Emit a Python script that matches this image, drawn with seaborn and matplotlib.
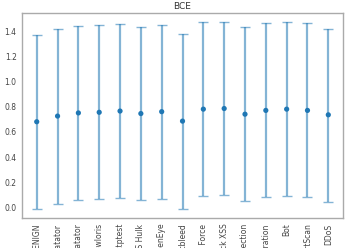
import matplotlib
matplotlib.use("Agg")
import matplotlib.pyplot as plt
import seaborn as sns
import numpy as np

categories = ["BENIGN", "FTP-Patator", "SSH-Patator", "DoS slowloris", "DoS Slowhttptest",
              "DoS Hulk", "DoS GoldenEye", "Heartbleed", "Web Attack Brute Force",
              "Web Attack XSS", "Web Attack Sql Injection", "Infiltration", "Bot",
              "PortScan", "DDoS"]
means = [0.68, 0.725, 0.75, 0.755, 0.765, 0.745, 0.76, 0.685, 0.78, 0.785, 0.74, 0.77, 0.78, 0.77, 0.735]
upper = [1.37, 1.415, 1.44, 1.445, 1.455, 1.435, 1.45, 1.38, 1.47, 1.47, 1.43, 1.46, 1.47, 1.46, 1.42]
lower = [-0.01, 0.03, 0.06, 0.065, 0.075, 0.055, 0.07, -0.01, 0.09, 0.10, 0.05, 0.08, 0.09, 0.08, 0.045]

sns.set_style("white")
plt.rcParams['font.family'] = ['DejaVu Sans']

fig, ax = plt.subplots(figsize=(3.46, 2.48), dpi=100)
fig.subplots_adjust(left=0.064, right=0.991, top=0.948, bottom=0.121)

m = np.array(means)
yerr = [m - np.array(lower), np.array(upper) - m]
ax.errorbar(categories, means, yerr=yerr, fmt='none', ecolor='#1f77b4', alpha=0.55,
            elinewidth=1.6, capsize=3.5, capthick=1.0)
sns.scatterplot(x=categories, y=means, ax=ax, color='#1f77b4', s=14, edgecolor='none', zorder=3)

ax.set_yticks([0.0, 0.2, 0.4, 0.6, 0.8, 1.0, 1.2, 1.4])
ax.tick_params(axis='both', labelsize=5.5, colors='#444444', length=2.5, width=0.6, pad=1.5)
ax.tick_params(axis='x', labelrotation=90)
for s in ax.spines.values():
    s.set_color('#aaaaaa')
    s.set_linewidth(1.0)
ax.set_title("BCE", fontsize=6.5, color='#333333', pad=3)

fig.savefig("out.png", dpi=100)
